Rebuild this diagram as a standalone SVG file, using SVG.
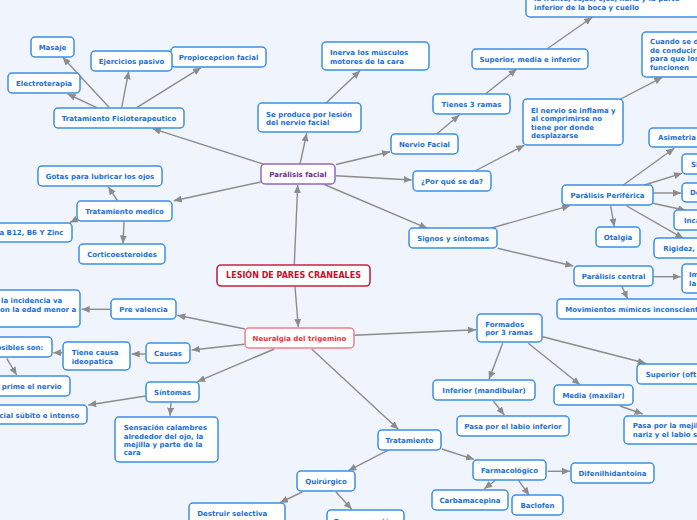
<svg xmlns="http://www.w3.org/2000/svg" width="697" height="520" viewBox="0 0 697 520">
<style>
.n rect{fill:#ffffff;stroke:#3b8ee8;stroke-width:1.5}
.n text{font-family:"DejaVu Sans",Verdana,sans-serif;font-weight:bold;font-size:7px;fill:#1b6fd4}
.m{text-anchor:middle}
.e{text-anchor:end}
.root rect{stroke:#c8243f;stroke-width:1.6}
.root text{fill:#c8102e;font-size:8px}
.pur rect{stroke:#9466bf}
.pur text{fill:#6a2c91}
.red rect{stroke:#ef7f88}
.red text{fill:#e23540}
#conn line{stroke:#8c8c8c;stroke-width:1.4;marker-end:url(#ah)}
</style>
<defs>
<marker id="ah" markerUnits="userSpaceOnUse" markerWidth="8" markerHeight="7" refX="8" refY="3.5" orient="auto">
<path d="M0,0 L8,3.5 L0,7 z" fill="#8c8c8c"/>
</marker>
</defs>
<rect x="0" y="0" width="697" height="520" fill="#f0f4fc"/>
<g id="conn">
<line x1="109" y1="107.3" x2="62.7" y2="57.3"/>
<line x1="96.7" y1="107.7" x2="67.7" y2="94"/>
<line x1="121.7" y1="107.3" x2="128.7" y2="71.3"/>
<line x1="136.7" y1="107.7" x2="201" y2="67.7"/>
<line x1="263" y1="164" x2="152.7" y2="128.7"/>
<line x1="261" y1="182" x2="173.7" y2="200.7"/>
<line x1="300" y1="164" x2="306.7" y2="133.3"/>
<line x1="326" y1="103" x2="360" y2="70.7"/>
<line x1="336" y1="164.5" x2="390" y2="151.7"/>
<line x1="437.3" y1="133.5" x2="459.3" y2="115"/>
<line x1="485.7" y1="93.7" x2="516.7" y2="69"/>
<line x1="547.3" y1="48.7" x2="592.3" y2="17.3"/>
<line x1="336" y1="175.7" x2="411.7" y2="180"/>
<line x1="475" y1="171" x2="524.3" y2="145.3"/>
<line x1="620.7" y1="99" x2="662.3" y2="77.3"/>
<line x1="324.3" y1="184.5" x2="427.3" y2="228.3"/>
<line x1="491.7" y1="228" x2="570" y2="205.7"/>
<line x1="497.7" y1="248.3" x2="573.3" y2="266"/>
<line x1="623.3" y1="185" x2="674.3" y2="148.3"/>
<line x1="644.3" y1="185" x2="682" y2="173.3"/>
<line x1="653" y1="193" x2="681" y2="193"/>
<line x1="653" y1="203.3" x2="686" y2="210.5"/>
<line x1="626.7" y1="206" x2="683.3" y2="238.3"/>
<line x1="610.7" y1="206" x2="614.3" y2="226.7"/>
<line x1="653.5" y1="276.7" x2="680.7" y2="276.7"/>
<line x1="621.7" y1="286" x2="627.7" y2="299"/>
<line x1="294.3" y1="264.5" x2="297.7" y2="185"/>
<line x1="295" y1="286.5" x2="298.3" y2="327"/>
<line x1="117.3" y1="200.5" x2="108.3" y2="186.7"/>
<line x1="76.5" y1="219.3" x2="70" y2="222.5"/>
<line x1="124" y1="221.5" x2="123" y2="243.5"/>
<line x1="110.3" y1="309.3" x2="81.7" y2="309.3"/>
<line x1="245" y1="329" x2="177.3" y2="315.3"/>
<line x1="244.3" y1="344.3" x2="191.7" y2="350"/>
<line x1="145.7" y1="354" x2="131.7" y2="354"/>
<line x1="62.7" y1="352.7" x2="53.3" y2="352.7"/>
<line x1="6.7" y1="358.3" x2="16.7" y2="375"/>
<line x1="274.3" y1="349" x2="197.3" y2="381.7"/>
<line x1="145.7" y1="396" x2="88.3" y2="405"/>
<line x1="171" y1="402.7" x2="170" y2="415.7"/>
<line x1="311.7" y1="349" x2="398.3" y2="429.3"/>
<line x1="387.3" y1="450.7" x2="348.3" y2="470.7"/>
<line x1="302.3" y1="492" x2="280" y2="502.7"/>
<line x1="336" y1="492" x2="351.7" y2="509.3"/>
<line x1="354.3" y1="335.3" x2="476" y2="329.7"/>
<line x1="502.7" y1="343.3" x2="489" y2="379.3"/>
<line x1="528.3" y1="343.3" x2="580" y2="384.7"/>
<line x1="542.7" y1="336.7" x2="645.7" y2="363.3"/>
<line x1="493.3" y1="401" x2="504.3" y2="415"/>
<line x1="620" y1="406" x2="642.7" y2="414"/>
<line x1="441.7" y1="449" x2="474" y2="459.3"/>
<line x1="547.7" y1="471.3" x2="570" y2="471.3"/>
<line x1="495" y1="480.7" x2="484.3" y2="488.7"/>
<line x1="518.7" y1="480.7" x2="529.3" y2="495.3"/>
</g>
<g id="masaje" class="n"><rect x="31" y="37" width="43" height="20" rx="4"/><text class="m" x="52.5" y="49.5">Masaje</text></g>
<g id="propiocepcion" class="n"><rect x="171" y="47" width="95" height="20" rx="4"/><text class="m" x="218.5" y="59.5">Propiocepcion facial</text></g>
<g id="ejercicios" class="n"><rect x="91" y="51" width="81" height="20" rx="4"/><text class="m" x="131.5" y="63.5">Ejercicios pasivo</text></g>
<g id="electroterapia" class="n"><rect x="8" y="73" width="72" height="20" rx="4"/><text class="m" x="44" y="85.5">Electroterapia</text></g>
<g id="fisio" class="n"><rect x="54" y="108" width="130" height="20" rx="4"/><text class="m" x="119" y="120.5">Tratamiento Fisioterapeutico</text></g>
<g id="gotas" class="n"><rect x="38" y="166" width="124" height="20" rx="4"/><text class="m" x="100" y="178.5">Gotas para lubricar los ojos</text></g>
<g id="medico" class="n"><rect x="77" y="201" width="95" height="20" rx="4"/><text class="m" x="124.5" y="213.5">Tratamiento medico</text></g>
<g id="vitamina" class="n"><rect x="-40" y="223" width="112" height="19" rx="4"/><text class="e" x="63.5" y="235">a B12, B6 Y Zinc</text></g>
<g id="cortico" class="n"><rect x="79" y="244" width="86" height="20" rx="4"/><text class="m" x="122" y="256.5">Corticoesteroides</text></g>
<g id="inerva" class="n"><rect x="322" y="42" width="107" height="28" rx="4"/><text x="330" y="54.8">Inerva los músculos</text><text x="330" y="63.8">motores de la cara</text></g>
<g id="seproduce" class="n"><rect x="258" y="103" width="103" height="29" rx="4"/><text x="266" y="117.2">Se produce por lesión</text><text x="266" y="125.2">del nervio facial</text></g>
<g id="tienes" class="n"><rect x="433" y="94" width="77" height="20" rx="4"/><text class="m" x="471.5" y="106.5">Tienes 3 ramas</text></g>
<g id="nervio" class="n"><rect x="391" y="134" width="67" height="20" rx="4"/><text class="m" x="424.5" y="146.5">Nervio Facial</text></g>
<g id="paralisis" class="n pur"><rect x="261" y="164" width="74" height="20" rx="4"/><text class="m" x="298" y="176.5">Parálisis facial</text></g>
<g id="porque" class="n"><rect x="413" y="171" width="78" height="20" rx="4"/><text class="m" x="452" y="183.5">¿Por qué se da?</text></g>
<g id="supmedinf" class="n"><rect x="472" y="49" width="116" height="20" rx="4"/><text class="m" x="530" y="61.5">Superior, media e inferior</text></g>
<g id="frente" class="n"><rect x="526" y="-40" width="200" height="57" rx="4"/><text x="534" y="1.3">la frente, cejas, ojos, nariz y la parte</text><text x="534" y="9.8">inferior de la boca y cuello</text></g>
<g id="cuando" class="n"><rect x="642" y="32" width="80" height="45" rx="4"/><text x="650" y="44">Cuando se d</text><text x="650" y="52.5">de conducir</text><text x="650" y="61">para que los</text><text x="650" y="69.5">funcionen</text></g>
<g id="inflama" class="n"><rect x="523" y="99" width="100" height="46" rx="4"/><text x="531" y="112.8">El nervio se inflama y</text><text x="531" y="121.3">al comprimirse no</text><text x="531" y="129.8">tiene por donde</text><text x="531" y="138.3">desplazarse</text></g>
<g id="asimetria" class="n"><rect x="649" y="128" width="60" height="19" rx="4"/><text x="658" y="140">Asimetria</text></g>
<g id="si" class="n"><rect x="682" y="154" width="40" height="20" rx="4"/><text x="691" y="166.5">Si</text></g>
<g id="de" class="n"><rect x="682" y="183" width="40" height="19" rx="4"/><text x="690" y="195">De</text></g>
<g id="inca" class="n"><rect x="674" y="210" width="50" height="20" rx="4"/><text x="684" y="222.5">Inca</text></g>
<g id="rigidez" class="n"><rect x="654" y="238" width="60" height="20" rx="4"/><text x="663.3" y="250.5">Rigidez,</text></g>
<g id="otalgia" class="n"><rect x="596" y="227" width="44" height="20" rx="4"/><text class="m" x="618" y="239.5">Otalgia</text></g>
<g id="periferica" class="n"><rect x="562" y="185" width="91" height="20" rx="4"/><text class="m" x="607.5" y="197.5">Parálisis Periférica</text></g>
<g id="signos" class="n"><rect x="409" y="228" width="88" height="20" rx="4"/><text class="m" x="453" y="240.5">Signos y síntomas</text></g>
<g id="central" class="n"><rect x="574" y="266" width="79" height="20" rx="4"/><text class="m" x="613.5" y="278.5">Parálisis central</text></g>
<g id="im" class="n"><rect x="682" y="264" width="40" height="29" rx="4"/><text x="689" y="276.8">Im</text><text x="689" y="285.5">la</text></g>
<g id="movimientos" class="n"><rect x="557" y="299" width="160" height="20" rx="4"/><text x="565.3" y="311.8">Movimientos mímicos inconscientes</text></g>
<g id="formados" class="n"><rect x="477" y="314" width="65" height="28" rx="4"/><text x="485.3" y="326.8">Formados</text><text x="485.3" y="334.8">por 3 ramas</text></g>
<g id="lesion" class="n root"><rect x="217" y="265" width="153" height="21" rx="4"/><text class="m" x="293.5" y="278.3">LESIÓN DE PARES CRANEALES</text></g>
<g id="neuralgia" class="n red"><rect x="245" y="328" width="109" height="20" rx="4"/><text class="m" x="299.5" y="340.5">Neuralgia del trigemino</text></g>
<g id="prevalencia" class="n"><rect x="111" y="299" width="65" height="20" rx="4"/><text class="m" x="143.5" y="311.5">Pre valencia</text></g>
<g id="incidencia" class="n"><rect x="-40" y="290" width="120" height="37" rx="4"/><text x="1" y="302.5">la incidencia va</text><text x="0" y="311.8">on la edad menor a</text></g>
<g id="causas" class="n"><rect x="146" y="343" width="44" height="20" rx="4"/><text class="m" x="168" y="355.5">Causas</text></g>
<g id="ideopatica" class="n"><rect x="63" y="342" width="67" height="28" rx="4"/><text x="71.7" y="355.2">Tiene causa</text><text x="71.7" y="364.2">ideopatica</text></g>
<g id="posibles" class="n"><rect x="-40" y="337" width="92" height="20" rx="4"/><text class="e" x="43.3" y="349.8">osibles son:</text></g>
<g id="comprime" class="n"><rect x="-40" y="376" width="110" height="20" rx="4"/><text class="e" x="61.7" y="389">prime el nervio</text></g>
<g id="sintomas" class="n"><rect x="146" y="382" width="53" height="20" rx="4"/><text class="m" x="172.5" y="394.5">Síntomas</text></g>
<g id="dolor" class="n"><rect x="-40" y="405" width="127" height="19" rx="4"/><text class="e" x="79.3" y="417.8">cial súbito e intenso</text></g>
<g id="sensacion" class="n"><rect x="115" y="417" width="103" height="45" rx="4"/><text x="123.7" y="430.2">Sensación calambres</text><text x="123.7" y="438.5">alrededor del ojo, la</text><text x="123.7" y="447.2">mejilla y parte de la</text><text x="123.7" y="455.2">cara</text></g>
<g id="tratamiento" class="n"><rect x="378" y="430" width="63" height="20" rx="4"/><text class="m" x="409.5" y="442.5">Tratamiento</text></g>
<g id="quirurgico" class="n"><rect x="297" y="471" width="58" height="20" rx="4"/><text class="m" x="326" y="483.5">Quirúrgico</text></g>
<g id="destruir" class="n"><rect x="189" y="503" width="96" height="40" rx="4"/><text x="197.3" y="515.8">Destruir selectiva</text></g>
<g id="descompresion" class="n"><rect x="327" y="510" width="77" height="30" rx="4"/><text class="m" x="364" y="523.8">Descompresión</text></g>
<g id="inferior" class="n"><rect x="433" y="380" width="102" height="20" rx="4"/><text class="m" x="484" y="392.5">Inferior (mandibular)</text></g>
<g id="media" class="n"><rect x="554" y="385" width="79" height="20" rx="4"/><text class="m" x="593.5" y="397.5">Media (maxilar)</text></g>
<g id="superior" class="n"><rect x="637" y="364" width="100" height="20" rx="4"/><text x="645.7" y="376.5">Superior (oft</text></g>
<g id="labioinf" class="n"><rect x="457" y="416" width="112" height="20" rx="4"/><text class="m" x="513" y="428.5">Pasa por el labio inferior</text></g>
<g id="mejilla" class="n"><rect x="624" y="416" width="100" height="28" rx="4"/><text x="632.7" y="427.8">Pasa por la mejil</text><text x="632.7" y="436.8">nariz y el labio s</text></g>
<g id="farmaco" class="n"><rect x="473" y="460" width="73" height="20" rx="4"/><text class="m" x="509.5" y="472.5">Farmacológico</text></g>
<g id="difenil" class="n"><rect x="571" y="463" width="83" height="20" rx="4"/><text class="m" x="612.5" y="475.5">Difenilhidantoina</text></g>
<g id="carba" class="n"><rect x="432" y="490" width="76" height="20" rx="4"/><text class="m" x="470" y="502.5">Carbamacepina</text></g>
<g id="baclofen" class="n"><rect x="512" y="495" width="51" height="20" rx="4"/><text class="m" x="537.5" y="507.5">Baclofen</text></g>
</svg>
